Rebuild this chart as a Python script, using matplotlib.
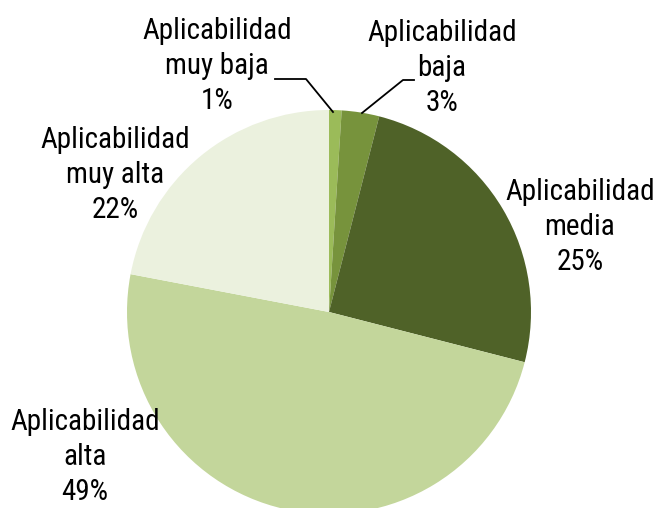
import matplotlib
matplotlib.use('Agg')
import matplotlib.pyplot as plt
from matplotlib import font_manager

labels = ['Aplicabilidad\nmuy baja', 'Aplicabilidad\nbaja', 'Aplicabilidad\nmedia',
          'Aplicabilidad\nalta', 'Aplicabilidad\nmuy alta']
values = [1, 3, 25, 49, 22]
colors = ['#9BBB59', '#77933C', '#4F6228', '#C3D69B', '#EBF1DE']

# label centres in pixel coordinates (top-left origin)
label_pos = [(217, 66), (442, 68), (580, 227), (85, 457), (115, 175)]

# use a narrow face if one is installed, otherwise plain Liberation Sans
installed = {f.name for f in font_manager.fontManager.ttflist}
narrow = [n for n in ('Liberation Sans Narrow', 'Arial Narrow', 'Roboto Condensed')
          if n in installed]
if narrow:
    plt.rcParams['font.family'] = [narrow[0], 'DejaVu Sans']
    fsize = 21
else:
    plt.rcParams['font.family'] = ['Liberation Sans', 'DejaVu Sans']
    fsize = 18.5

fig = plt.figure(figsize=(6.56, 5.08), dpi=100)
ax = fig.add_axes([0, 0, 1, 1])

ax.pie(values, colors=colors, startangle=90, counterclock=False,
       center=(329, 508 - 312), radius=202, frame=True,
       wedgeprops={'linewidth': 0})
ax.set_xlim(0, 656)
ax.set_ylim(0, 508)
ax.set_aspect('equal')
ax.axis('off')

for lab, v, (x, y) in zip(labels, values, label_pos):
    ax.text(x, 508 - y, f'{lab}\n{v}%', ha='center', va='center',
            fontsize=fsize, linespacing=1.32, color='black')

# leader lines for the two small slices
ax.plot([333, 306, 275], [508 - 112, 508 - 79, 508 - 79], color='black', lw=1.3)
ax.plot([362, 403, 414], [508 - 113, 508 - 80, 508 - 80], color='black', lw=1.3)

fig.savefig('out.png', dpi=100)
